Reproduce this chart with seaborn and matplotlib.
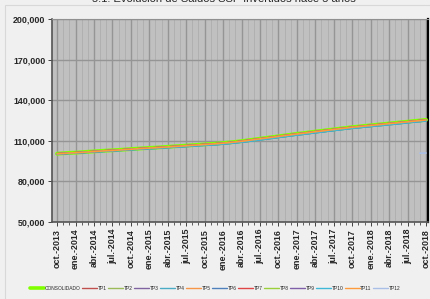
import numpy as np
import pandas as pd
import seaborn as sns
from matplotlib import pyplot as plt
from matplotlib.ticker import FuncFormatter, MultipleLocator

sns.set_style('white')
plt.rcParams['font.family'] = ['Liberation Sans', 'DejaVu Sans']

#%% data (monthly, oct-2013 .. oct-2018, thousands)
consolidado = [100.5, 100.8, 101.1, 101.3, 101.6, 101.9, 102.2, 102.5, 102.8, 103.0,
               103.3, 103.6, 103.9, 104.2, 104.5, 104.8, 105.0, 105.3, 105.6, 105.9,
               106.2, 106.5, 106.8, 107.1, 107.4, 107.7, 108.0, 108.4, 108.8, 109.3,
               109.8, 110.4, 111.0, 111.6, 112.2, 112.8, 113.4, 114.0, 114.6, 115.2,
               115.7, 116.3, 116.9, 117.4, 118.0, 118.5, 119.1, 119.6, 120.2, 120.6,
               121.1, 121.5, 122.0, 122.4, 122.9, 123.3, 123.8, 124.2, 124.7, 125.1,
               125.6]
tp_mid = [100.4, 100.7, 101.0, 101.2, 101.5, 101.8, 102.1, 102.4, 102.7, 102.9,
          103.2, 103.5, 103.8, 104.1, 104.4, 104.7, 104.9, 105.2, 105.5, 105.8,
          106.1, 106.4, 106.7, 107.0, 107.3, 107.6, 107.9, 108.3, 108.7, 109.2,
          109.7, 110.3, 110.9, 111.5, 112.1, 112.7, 113.3, 113.9, 114.5, 115.1,
          115.6, 116.2, 116.8, 117.3, 117.9, 118.4, 119.0, 119.5, 120.1, 120.5,
          121.0, 121.4, 121.9, 122.3, 122.8, 123.2, 123.7, 124.1, 124.6, 125.0,
          125.5]
tp_low = [100.2, 100.5, 100.8, 101.0, 101.3, 101.6, 101.9, 102.1, 102.4, 102.6,
          102.9, 103.2, 103.5, 103.8, 104.0, 104.3, 104.5, 104.8, 105.1, 105.4,
          105.6, 105.9, 106.2, 106.5, 106.8, 107.0, 107.3, 107.7, 108.1, 108.6,
          109.1, 109.6, 110.2, 110.8, 111.4, 112.0, 112.6, 113.2, 113.8, 114.4,
          114.9, 115.5, 116.1, 116.6, 117.2, 117.7, 118.3, 118.8, 119.4, 119.8,
          120.3, 120.7, 121.2, 121.6, 122.1, 122.5, 123.0, 123.5, 124.0, 124.4,
          124.9]
tp12 = [np.nan] * 59 + [100.9, 101.0]

series = {'CONSOLIDADO': consolidado,
          'TP1': tp_mid, 'TP2': tp_mid, 'TP3': tp_mid, 'TP4': tp_low,
          'TP5': tp_mid, 'TP6': tp_low, 'TP7': tp_mid, 'TP8': tp_mid,
          'TP9': tp_mid, 'TP10': tp_low, 'TP11': tp_mid, 'TP12': tp12}

colors = {'CONSOLIDADO': '#80ff00', 'TP1': '#c0504d', 'TP2': '#9bbb59', 'TP3': '#8064a2',
          'TP4': '#4bacc6', 'TP5': '#f79646', 'TP6': '#4f81bd', 'TP7': '#e04545',
          'TP8': '#9bd03a', 'TP9': '#7f5fa8', 'TP10': '#3fb8d8', 'TP11': '#ff9a3c',
          'TP12': '#a9bfe6'}

tick_labels = ['oct.-2013', 'ene.-2014', 'abr.-2014', 'jul.-2014', 'oct.-2014',
               'ene.-2015', 'abr.-2015', 'jul.-2015', 'oct.-2015', 'ene.-2016',
               'abr.-2016', 'jul.-2016', 'oct.-2016', 'ene.-2017', 'abr.-2017',
               'jul.-2017', 'oct.-2017', 'ene.-2018', 'abr.-2018', 'jul.-2018',
               'oct.-2018']

rows = []
for name, vals in series.items():
    for i, v in enumerate(vals):
        rows.append((name, i, v * 1000))
df = pd.DataFrame(rows, columns=['serie', 'mes', 'saldo'])

#%% plot
fig = plt.figure(figsize=(4.3, 2.99), dpi=100, facecolor='#f0f0f0')
ax = fig.add_axes([0.122, 0.258, 0.873, 0.677])
ax.set_facecolor('#c0c0c0')

sizes = {k: (2.8 if k == 'CONSOLIDADO' else 1.2) for k in series}
sns.lineplot(data=df, x='mes', y='saldo', hue='serie', size='serie', sizes=sizes,
             palette=colors, hue_order=list(series), size_order=list(series),
             ax=ax, legend=False, zorder=3)

ax.set_xlim(-0.75, 60.3)
ax.set_ylim(50000, 200000)
ax.set_yticks(range(50000, 200001, 30000))
ax.yaxis.set_major_formatter(FuncFormatter(lambda v, p: f'{int(v):,}'))
ax.set_xticks(range(0, 61, 3))
ax.set_xticklabels(tick_labels, rotation=90)
ax.xaxis.set_minor_locator(MultipleLocator(1))
ax.grid(True, which='major', color='#959595', lw=1.0, zorder=1)
ax.grid(True, which='minor', axis='x', color='#adadad', lw=0.6, zorder=1)
ax.set_axisbelow(True)
ax.tick_params(axis='both', labelsize=6.4, length=3, width=0.6, pad=2, direction='out',
               left=True, bottom=True)
ax.tick_params(axis='x', which='minor', length=2, width=0.5, bottom=True)
for lab in ax.get_xticklabels() + ax.get_yticklabels():
    lab.set_fontweight('bold')
ax.set_xlabel('')
ax.set_ylabel('')
for side in ['left', 'bottom']:
    ax.spines[side].set_color('#555555')
    ax.spines[side].set_linewidth(1.2)
ax.spines['right'].set_color('black')
ax.spines['right'].set_linewidth(1.6)
ax.spines['top'].set_color('#909090')

handles = [plt.Line2D([], [], color=colors[k], lw=(2.6 if k == 'CONSOLIDADO' else 1.0))
           for k in series]
fig.legend(handles, list(series), loc='center', bbox_to_anchor=(0.5, 0.035), ncol=13,
           frameon=False, fontsize=3.5, handlelength=3.0, handletextpad=0.15,
           columnspacing=0.35)

fig.text(0.52, 1.004, '5.1. Evolución de Saldos SSP Invertidos hace 5 años',
         ha='center', va='center', fontsize=8)

fig.patches.append(plt.Rectangle((5 / 430, -0.1), 1, 1.083, transform=fig.transFigure,
                                 fill=False, edgecolor='#d8d8d8', lw=0.8))

fig.savefig('out.png', dpi=100, facecolor=fig.get_facecolor())
